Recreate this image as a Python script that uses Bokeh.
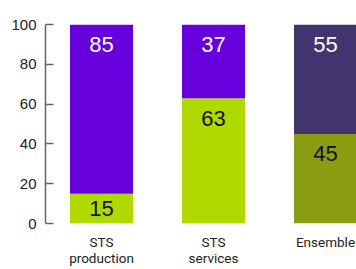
import numpy as np
from bokeh.plotting import figure
from bokeh.models import ColumnDataSource, FixedTicker, Range1d
from bokeh.core.properties import value
from bokeh.embed import file_html
from bokeh.resources import INLINE

categories = ["STS production", "STS services", "Ensemble"]
tick_labels = ["STS\nproduction", "STS\nservices", "Ensemble"]
bottom_vals = [15, 63, 45]
top_vals = [85, 37, 55]
bottom_colors = ["#b0d900", "#b0d900", "#8a9c12"]
top_colors = ["#6600dd", "#6600dd", "#41346f"]
y_ticks = [0, 20, 40, 60, 80, 100]

xs = np.arange(len(categories)) + 0.5
b = np.array(bottom_vals, dtype=float)
t = np.array(top_vals, dtype=float)

src = ColumnDataSource(dict(
    x=xs, b=b, total=b + t, bc=bottom_colors, tc=top_colors,
    bl=[str(v) for v in bottom_vals], tl=[str(v) for v in top_vals],
    by=np.maximum(b - 10, b / 2), ty=np.maximum(b + t - 10, b + t / 2),
))

p = figure(width=356, height=269, output_backend="svg", toolbar_location=None,
           x_range=Range1d(0, 311 / 112), y_range=Range1d(0, 100),
           min_border_left=45, min_border_right=0, min_border_top=24, min_border_bottom=46)
p.outline_line_color = None
p.grid.visible = False
p.background_fill_color = "white"

p.vbar(x="x", bottom=0, top="b", width=0.5625, fill_color="bc", line_color=None, source=src)
p.vbar(x="x", bottom="b", top="total", width=0.5625, fill_color="tc", line_color=None, source=src)

p.text(x="x", y="by", text="bl", text_align="center", text_baseline="middle",
       text_font=value("Liberation Sans"), text_font_size="22px", text_color="#111111", source=src)
p.text(x="x", y="ty", text="tl", text_align="center", text_baseline="middle",
       text_font=value("Liberation Sans"), text_font_size="22px", text_color="white", source=src)

ya = p.yaxis[0]
ya.ticker = FixedTicker(ticks=y_ticks)
ya.major_tick_in = 8
ya.major_tick_out = 0
ya.minor_tick_line_color = None
ya.axis_line_color = "#666666"
ya.axis_line_width = 1.5
ya.major_tick_line_color = "#666666"
ya.major_tick_line_width = 1.5
ya.major_label_standoff = 9
ya.major_label_text_font = "Liberation Sans"
ya.major_label_text_font_size = "15px"
ya.major_label_text_color = "#222222"

xa = p.xaxis[0]
xa.ticker = FixedTicker(ticks=list(xs))
xa.major_label_overrides = {float(x): lab for x, lab in zip(xs, tick_labels)}
xa.axis_line_color = None
xa.major_tick_line_color = None
xa.minor_tick_line_color = None
xa.major_label_standoff = 4
xa.major_label_text_font = "Roboto"
xa.major_label_text_font_size = "13.5px"
xa.major_label_text_line_height = 1.0
xa.major_label_text_color = "#222222"

open("out.html", "w").write(file_html(p, INLINE))
